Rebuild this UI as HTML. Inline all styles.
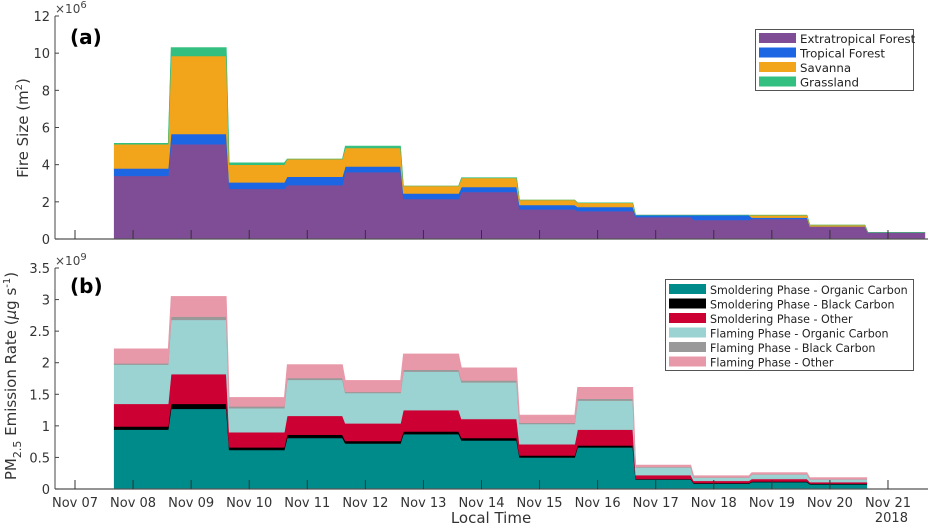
<!DOCTYPE html>
<html><head><meta charset="utf-8"><style>
body{margin:0;background:#fff;}
svg{display:block;font-family:"DejaVu Sans","Liberation Sans",sans-serif;}
</style></head><body>
<svg id="chart" width="928" height="525" viewBox="0 0 928 525">
</svg>
<script>
// ---- data ----
const dayLabels = ["Nov 07","Nov 08","Nov 09","Nov 10","Nov 11","Nov 12","Nov 13","Nov 14","Nov 15","Nov 16","Nov 17","Nov 18","Nov 19","Nov 20","Nov 21"];
// panel (a) fire size, x1e6 m2, 14 daily steps starting Nov 07.65
const extratropical = [3.4,5.1,2.7,2.9,3.6,2.15,2.53,1.6,1.5,1.18,1.03,1.08,0.68,0.36];
const tropical =      [0.4,0.55,0.35,0.45,0.3,0.3,0.27,0.23,0.23,0.1,0.25,0.07,0.0,0.0];
const savanna =       [1.3,4.2,0.95,0.95,1.0,0.4,0.48,0.27,0.22,0.0,0.0,0.13,0.07,0.0];
const grassland =     [0.05,0.45,0.1,0.0,0.1,0.0,0.02,0.0,0.0,0.0,0.0,0.0,0.0,0.0];
const aTicks = [0,2,4,6,8,10,12];
// panel (b) PM2.5 emission, x1e9 ug/s, 13 steps
const smolOC =   [0.94,1.27,0.62,0.81,0.72,0.87,0.77,0.50,0.66,0.15,0.085,0.11,0.074];
const smolBC =   [0.05,0.08,0.04,0.05,0.04,0.04,0.04,0.03,0.03,0.01,0.01,0.01,0.011];
const smolOther =[0.36,0.47,0.24,0.30,0.28,0.34,0.30,0.18,0.25,0.06,0.035,0.04,0.025];
const flamOC =   [0.62,0.86,0.38,0.57,0.48,0.61,0.58,0.32,0.46,0.12,0.05,0.07,0.04];
const flamBC =   [0.02,0.05,0.03,0.03,0.02,0.03,0.03,0.02,0.03,0.01,0.005,0.005,0.005];
const flamOther =[0.23,0.32,0.14,0.21,0.18,0.25,0.20,0.12,0.18,0.03,0.025,0.025,0.025];
const bTicks = [0,0.5,1,1.5,2,2.5,3,3.5];
const bTickLabels = ["0","0.5","1","1.5","2","2.5","3","3.5"];

const svg = document.getElementById('chart');
const NS = 'http://www.w3.org/2000/svg';
function mk(tag, attrs, parent){const e=document.createElementNS(NS,tag);for(const k in attrs)e.setAttribute(k,attrs[k]);(parent||svg).appendChild(e);return e;}

// axis functions
const x = d => 75 + d*58.07; // d = days since Nov 07 00:00
const yA = v => 239 - v*(223/12);
const yB = v => 489 - v*(221/3.5);
const startDay = 0.655;

function stackedArea(series, colors, names, yf, parent){
  const n = series[0].length;
  let base = new Array(n).fill(0);
  series.forEach((s, si) => {
    const top = base.map((b,i)=>b+s[i]);
    const pts = [];
    for(let i=0;i<n;i++){ const a=startDay+i, b=startDay+i+1-(i<n-1?0.05:0.02);
      pts.push([x(a+(i==0?0.02:0)),yf(top[i])],[x(b),yf(top[i])]); }
    const bpts = [];
    for(let i=n-1;i>=0;i--){ const a=startDay+i, b=startDay+i+1-(i<n-1?0.05:0.02);
      bpts.push([x(b),yf(base[i])],[x(a+(i==0?0.02:0)),yf(base[i])]); }
    const all = pts.concat(bpts);
    const p = mk('polygon',{points:all.map(q=>q[0].toFixed(1)+','+q[1].toFixed(1)).join(' '),fill:colors[si],stroke:colors[si],'stroke-width':0.6},parent);
    
    
    base = top;
  });
}

// ---------- panel a ----------
const gA = mk('g',{});


const aColors=['#7f4d96','#1c66e4','#f2a41b','#32bf7f'];
stackedArea([extratropical,tropical,savanna,grassland],aColors,['area-extratropical-forest','area-tropical-forest','area-savanna','area-grassland'],yA,gA);
mk('line',{x1:55,y1:yA(12),x2:55,y2:239,stroke:'#444','stroke-width':1},gA);
mk('line',{x1:55,y1:239,x2:928,y2:239,stroke:'#555','stroke-width':1.3},gA);
aTicks.forEach(v=>{
  mk('line',{x1:55,y1:yA(v),x2:59,y2:yA(v),stroke:'#444'},gA);
  const t=mk('text',{x:50,y:yA(v)+5,'text-anchor':'end','font-size':13,fill:'#333'},gA);t.textContent=v;
  
  
});
dayLabels.forEach((l,i)=>{mk('line',{x1:x(i),y1:239,x2:x(i),y2:230,stroke:'#333','stroke-width':1},gA);});
const ea=mk('text',{x:55,y:13,'font-size':12,fill:'#444'},gA);ea.innerHTML='×10<tspan dy="-5" font-size="10">6</tspan>';

const la=mk('text',{x:70,y:44,'font-size':20,'font-weight':'bold',fill:'#000'},gA);la.textContent='(a)';

const ya=mk('text',{transform:'translate(28,128) rotate(-90)','text-anchor':'middle','font-size':15,fill:'#333'},gA);
ya.innerHTML='Fire Size (m<tspan dy="-6" font-size="10">2</tspan><tspan dy="6">)</tspan>';

// legend a
const lgA=mk('g',{});


mk('rect',{x:755.5,y:29.5,width:158,height:61,fill:'#fff',stroke:'#555'},lgA);
['Extratropical Forest','Tropical Forest','Savanna','Grassland'].forEach((n,i)=>{
  const yy=33+i*14.5;
  mk('rect',{x:759,y:yy,width:37,height:10,fill:aColors[i]},lgA);
  const t=mk('text',{x:800,y:yy+10,'font-size':11.8,fill:'#222'},lgA);t.textContent=n;
  
});

// ---------- panel b ----------
const gB = mk('g',{});


const bColors=['#008b8b','#000000','#cc0033','#9bd2d2','#999999','#e899a9'];
stackedArea([smolOC,smolBC,smolOther,flamOC,flamBC,flamOther],bColors,['area-smoldering-oc','area-smoldering-bc','area-smoldering-other','area-flaming-oc','area-flaming-bc','area-flaming-other'],yB,gB);
mk('line',{x1:55,y1:yB(3.5),x2:55,y2:489,stroke:'#444'},gB);
mk('line',{x1:55,y1:489,x2:928,y2:489,stroke:'#555','stroke-width':1.3},gB);
bTicks.forEach((v,i)=>{
  mk('line',{x1:55,y1:yB(v),x2:59,y2:yB(v),stroke:'#444'},gB);
  const t=mk('text',{x:50,y:yB(v)+5,'text-anchor':'end','font-size':13,fill:'#333'},gB);t.textContent=bTickLabels[i];
  
  
});
dayLabels.forEach((l,i)=>{
  mk('line',{x1:x(i),y1:489,x2:x(i),y2:480,stroke:'#333'},gB);
  const t=mk('text',{x:x(i),y:507,'text-anchor':'middle','font-size':13,fill:'#333'},gB);t.textContent=l;
  
  
});
const yr=mk('text',{x:x(14)+20,y:522,'text-anchor':'end','font-size':13,fill:'#333'},gB);yr.textContent='2018';

const xl=mk('text',{x:491,y:523,'text-anchor':'middle','font-size':15,fill:'#333'},gB);xl.textContent='Local Time';

const eb=mk('text',{x:55,y:265,'font-size':12,fill:'#444'},gB);eb.innerHTML='×10<tspan dy="-5" font-size="10">9</tspan>';

const lb=mk('text',{x:70,y:293,'font-size':20,'font-weight':'bold',fill:'#000'},gB);lb.textContent='(b)';

const yb=mk('text',{transform:'translate(16,376) rotate(-90)','text-anchor':'middle','font-size':15,fill:'#333'},gB);
yb.innerHTML='PM<tspan dy="5" font-size="11">2.5</tspan><tspan dy="-5"> Emission Rate (</tspan><tspan font-style="italic">μ</tspan>g s<tspan dy="-6" font-size="10">-1</tspan><tspan dy="6">)</tspan>';

const lgB=mk('g',{});


mk('rect',{x:665.5,y:279.5,width:248,height:91,fill:'#fff',stroke:'#555'},lgB);
['Smoldering Phase - Organic Carbon','Smoldering Phase - Black Carbon','Smoldering Phase - Other','Flaming Phase - Organic Carbon','Flaming Phase - Black Carbon','Flaming Phase - Other'].forEach((n,i)=>{
  const yy=284+i*14.5;
  mk('rect',{x:669,y:yy,width:37,height:10,fill:bColors[i]},lgB);
  const t=mk('text',{x:710,y:yy+10,'font-size':11.1,fill:'#222'},lgB);t.textContent=n;
  
});
</script>
</body></html>
